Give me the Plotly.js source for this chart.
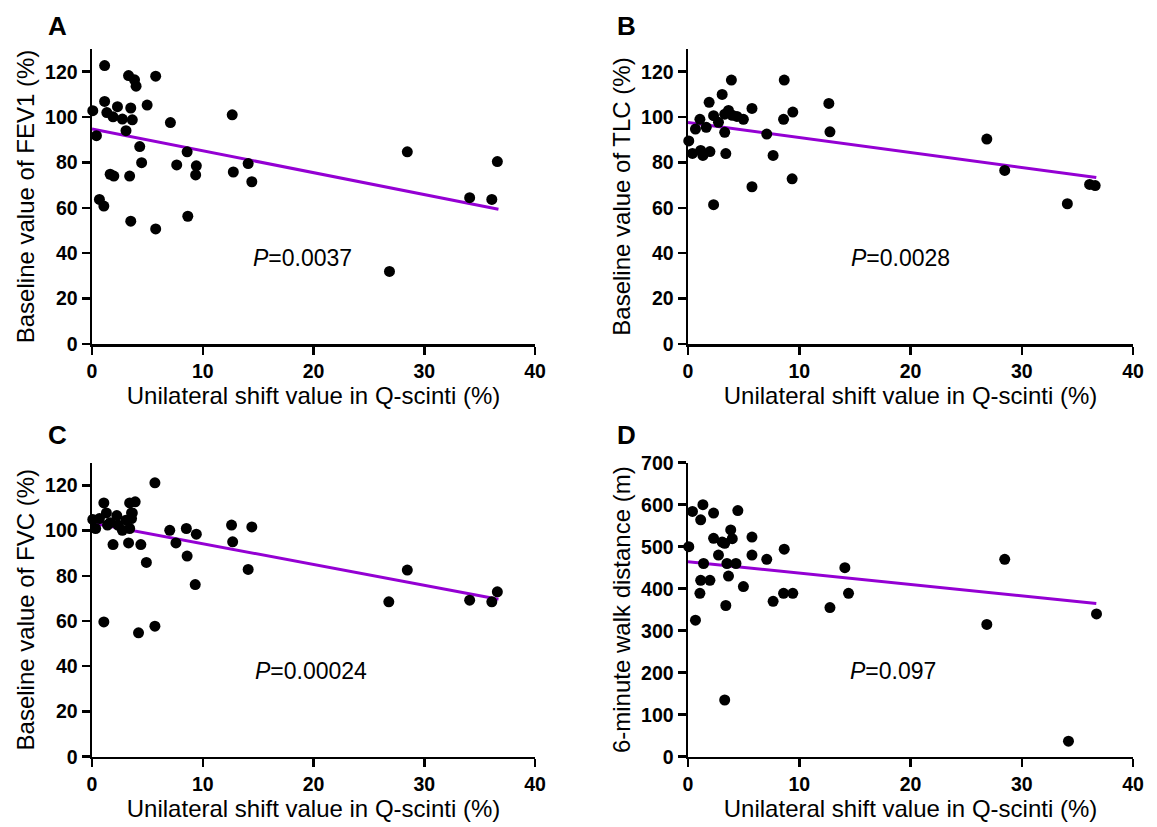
<!DOCTYPE html>
<html>
<head>
<meta charset="utf-8">
<script src="https://cdn.plot.ly/plotly-3.0.1.min.js"></script>
<style>
  html, body { margin: 0; padding: 0; background: #fff; }
  #chart { width: 1157px; height: 827px; }
</style>
</head>
<body>
<div id="chart"></div>
<script>
// ---------- Data ----------
// Panel A: FEV1
const fevX = [0.07, 0.4, 0.67, 1.07, 1.14, 1.14, 1.34, 1.64, 1.97, 1.9, 2.3, 2.74, 3.07, 3.3, 3.4, 3.5, 3.5, 3.64, 3.84, 3.98, 4.31, 4.48, 4.98, 5.75, 5.75, 7.08, 7.65, 8.59, 8.65, 9.42, 9.36, 12.66, 12.76, 14.1, 14.43, 26.86, 28.47, 34.1, 36.1, 36.6];
const fevY = [102.8, 91.8, 63.7, 60.8, 122.7, 106.9, 102, 74.8, 74, 100.1, 104.6, 99.1, 94, 118.3, 74, 54.1, 104, 98.8, 116.4, 113.6, 87, 79.9, 105.3, 118, 50.7, 97.6, 78.9, 84.7, 56.3, 78.5, 74.5, 101, 75.8, 79.5, 71.5, 32, 84.7, 64.5, 63.7, 80.4];

// Panel B: TLC
const tlcX = [0.07, 0.4, 0.67, 1.07, 1.14, 1.34, 1.64, 1.9, 1.97, 2.3, 2.3, 2.74, 3.07, 3.3, 3.4, 3.3, 3.64, 3.9, 3.98, 4.4, 4.98, 5.75, 5.75, 7.08, 7.65, 8.59, 8.65, 9.42, 9.36, 12.66, 12.76, 26.86, 28.47, 34.1, 36.1, 36.6];
const tlcY = [89.5, 84, 94.7, 99, 85.3, 83.1, 95.5, 106.5, 84.8, 61.4, 100.6, 97.7, 110, 93.3, 83.9, 101.3, 102.9, 116.3, 100.8, 100.3, 99, 103.8, 69.3, 92.5, 83.1, 99, 116.3, 102.2, 72.8, 106, 93.5, 90.3, 76.5, 61.8, 70.3, 69.8];

// Panel C: FVC
const fvcX = [0.07, 0.33, 0.67, 1.07, 1.07, 1.3, 1.4, 1.64, 1.9, 2.24, 2.34, 2.74, 3.07, 3.3, 3.4, 3.9, 3.57, 3.64, 3.57, 3.4, 4.2, 4.41, 4.91, 5.68, 5.68, 7.02, 7.58, 8.52, 8.59, 9.42, 9.32, 12.6, 12.7, 14.1, 14.43, 26.8, 28.47, 34.1, 36.1, 36.6];
const fvcY = [104.9, 100.9, 105.3, 112.2, 59.6, 107.8, 102.4, 103.5, 93.8, 106.6, 102.4, 100.1, 104.6, 94.5, 112.2, 112.7, 107.8, 107.8, 105.3, 100.9, 54.8, 93.8, 85.9, 121.1, 57.7, 100.1, 94.5, 100.9, 88.7, 98.4, 76.1, 102.4, 95, 82.8, 101.6, 68.5, 82.5, 69.2, 68.5, 72.9];

// Panel D: 6-minute walk distance
const walkX = [0.07, 0.4, 0.67, 1.07, 1.14, 1.14, 1.34, 1.4, 1.97, 2.3, 2.3, 2.74, 3.07, 3.3, 3.4, 3.3, 3.5, 3.64, 3.84, 3.98, 4.31, 4.48, 4.98, 5.75, 5.75, 7.08, 7.65, 8.59, 8.65, 9.42, 12.76, 14.1, 14.43, 26.86, 28.47, 34.2, 36.72];
const walkY = [500, 584, 325, 389, 420, 564, 600, 460, 420, 580, 520, 480, 511, 508, 360, 135, 460, 430, 540, 519, 460, 586, 405, 523, 480, 470, 370, 389, 494, 389, 355, 450, 389, 315, 470, 37, 340];

// Regression lines (endpoints)
const fitX = [0, 36.7];
const fevFit = [94.8, 59.4];
const tlcFit = [97.6, 73.4];
const fvcFit = [103.4, 69.6];
const walkFit = [464, 365];

// Labels
const panelLetters = ['A', 'B', 'C', 'D'];
const yTitles = ['Baseline value of FEV1 (%)', 'Baseline value of TLC (%)', 'Baseline value of FVC (%)', '6-minute walk distance (m)'];
const xTitle = 'Unilateral shift value in Q-scinti (%)';
const pTexts = ['0.0037', '0.0028', '0.00024', '0.097'];
const pPosX = [19.0, 19.1, 19.8, 18.4];
const pPosY = [38, 38, 38, 205];
const xTicks = [0, 10, 20, 30, 40];
const pctTicks = [0, 20, 40, 60, 80, 100, 120];
const walkTicks = [0, 100, 200, 300, 400, 500, 600, 700];

// ---------- Build ----------
const W = 1157, H = 827;
const purple = '#9400d3';
const FONT = 'Liberation Sans, Arial, sans-serif';

const datasets = [
  {x: fevX, y: fevY, fit: fevFit},
  {x: tlcX, y: tlcY, fit: tlcFit},
  {x: fvcX, y: fvcY, fit: fvcFit},
  {x: walkX, y: walkY, fit: walkFit}
];

const traces = [];
datasets.forEach((d, i) => {
  const sfx = i === 0 ? '' : String(i + 1);
  traces.push({
    type: 'scatter', mode: 'lines', x: fitX, y: d.fit,
    xaxis: 'x' + sfx, yaxis: 'y' + sfx,
    line: {color: purple, width: 3}, hoverinfo: 'skip', cliponaxis: false, showlegend: false
  });
  traces.push({
    type: 'scatter', mode: 'markers', x: d.x, y: d.y,
    xaxis: 'x' + sfx, yaxis: 'y' + sfx,
    marker: {color: 'black', size: 11}, cliponaxis: false, showlegend: false
  });
});

const leftX = [92 / W, 535 / W];
const rightX = [688 / W, 1133 / W];
const topY = [1 - 344 / H, 1 - 49 / H];
const botY = [1 - 756.7 / H, 1 - 462.7 / H];
const xDomains = [leftX, rightX, leftX, rightX];
const yDomains = [topY, topY, botY, botY];

const layout = {
  width: W, height: H,
  margin: {l: 0, r: 0, t: 0, b: 0},
  paper_bgcolor: 'white', plot_bgcolor: 'white',
  showlegend: false,
  annotations: []
};

for (let i = 0; i < 4; i++) {
  const sfx = i === 0 ? '' : String(i + 1);
  const isWalk = i === 3;
  layout['xaxis' + sfx] = {
    domain: xDomains[i], anchor: 'y' + sfx, range: [0, 40], tickvals: xTicks,
    ticks: 'outside', ticklen: 8, tickwidth: 2.5, tickcolor: 'black',
    showline: true, linewidth: 2.5, linecolor: 'black',
    showgrid: false, zeroline: false,
    tickfont: {family: FONT, size: 19.5, color: 'black', weight: 'bold'},
    title: {text: xTitle, font: {family: FONT, size: 24, color: 'black'}, standoff: 6}
  };
  layout['yaxis' + sfx] = {
    domain: yDomains[i], anchor: 'x' + sfx, range: isWalk ? [0, 700] : [0, 130],
    tickvals: isWalk ? walkTicks : pctTicks,
    ticks: 'outside', ticklen: 8, tickwidth: 2.5, tickcolor: 'black',
    showline: true, linewidth: 2.5, linecolor: 'black',
    showgrid: false, zeroline: false,
    tickfont: {family: FONT, size: 19.5, color: 'black', weight: 'bold'},
    title: {text: yTitles[i], font: {family: FONT, size: 24, color: 'black'}, standoff: 4}
  };
  layout.annotations.push({
    xref: 'x' + sfx, yref: 'y' + sfx, x: pPosX[i], y: pPosY[i],
    text: '<i>P</i>=' + pTexts[i], showarrow: false,
    font: {family: FONT, size: 23, color: 'black'}, xanchor: 'center', yanchor: 'middle'
  });
  const lx = (i % 2 === 0) ? 57 : 626;
  const ly = (i < 2) ? 26 : 435;
  layout.annotations.push({
    xref: 'paper', yref: 'paper', x: lx / W, y: 1 - ly / H,
    text: '<b>' + panelLetters[i] + '</b>', showarrow: false,
    font: {family: FONT, size: 26, color: 'black'}, xanchor: 'center', yanchor: 'middle'
  });
}

Plotly.newPlot('chart', traces, layout, {displayModeBar: false, staticPlot: true});
</script>
</body>
</html>
